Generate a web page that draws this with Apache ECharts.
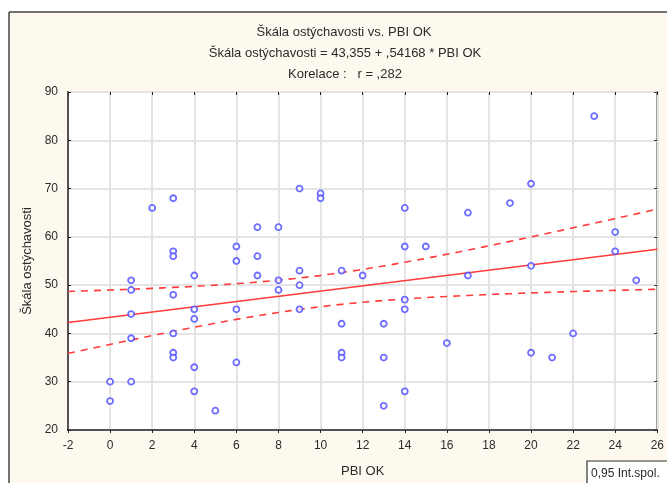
<!DOCTYPE html>
<html>
<head>
<meta charset="utf-8">
<script src="https://cdn.jsdelivr.net/npm/echarts@6/dist/echarts.min.js"></script>
<style>
  html, body { margin: 0; padding: 0; background: #fff; }
  #chart { width: 667px; height: 483px; }
</style>
</head>
<body>
<div id="chart"></div>
<script>
// PBI OK scores (x) and shyness scale scores (y) for each respondent
const pbiOk = [
  0, 0,
  1, 1, 1, 1, 1,
  2,
  3, 3, 3, 3, 3, 3, 3,
  4, 4, 4, 4, 4,
  5,
  6, 6, 6, 6,
  7, 7, 7,
  8, 8, 8,
  9, 9, 9, 9,
  10, 10,
  11, 11, 11, 11,
  12,
  13, 13, 13,
  14, 14, 14, 14, 14,
  15, 16, 17, 17, 19,
  20, 20, 20,
  21, 22, 23,
  24, 24, 25
];
const skala = [
  30, 26,
  51, 49, 44, 39, 30,
  66,
  68, 57, 56, 48, 40, 36, 35,
  52, 45, 43, 33, 28,
  24,
  58, 55, 45, 34,
  62, 56, 52,
  62, 51, 49,
  70, 53, 50, 45,
  69, 68,
  53, 42, 36, 35,
  52,
  42, 35, 25,
  66, 58, 47, 45, 28,
  58, 38, 65, 52, 67,
  71, 54, 36,
  35, 40, 85,
  61, 57, 51
];

// Fitted line as stated in the subtitle
const intercept = 43.355;
const slope = 0.54168;
const xRange = [-2, 26];
const xTicks = { min: -2, max: 26, step: 2 };
const yTicks = { min: 20, max: 90, step: 10 };

const points = pbiOk.map((x, i) => [x, skala[i]]);
const fit = x => intercept + slope * x;

// 95% confidence band for the mean response
const n = pbiOk.length;
const xMean = pbiOk.reduce((a, b) => a + b, 0) / n;
const sxx = pbiOk.reduce((a, x) => a + (x - xMean) ** 2, 0);
const sse = points.reduce((a, [x, y]) => a + (y - fit(x)) ** 2, 0);
const s = Math.sqrt(sse / (n - 2));
const tCrit = 1.999; // t(0.975, df = 62)
const bandX = [];
for (let x = xRange[0]; x <= xRange[1] + 1e-9; x += 0.25) bandX.push(x);
const half = x => tCrit * s * Math.sqrt(1 / n + (x - xMean) ** 2 / sxx);
const upper = bandX.map(x => [x, fit(x) + half(x)]);
const lower = bandX.map(x => [x, fit(x) - half(x)]);
const fitLine = xRange.map(x => [x, fit(x)]);

const textColor = '#2b2b2b';
const font = 'Liberation Sans, Arial, sans-serif';
const red = '#ff3b3b';

const chart = echarts.init(document.getElementById('chart'), null, { renderer: 'canvas' });
chart.setOption({
  animation: false,
  backgroundColor: '#fef9ee',
  textStyle: { fontFamily: font },
  graphic: [
    { type: 'rect', shape: { x: 0, y: 0, width: 667, height: 12 }, style: { fill: '#fff' }, silent: true },
    { type: 'rect', shape: { x: 0, y: 0, width: 9, height: 483 }, style: { fill: '#fff' }, silent: true },
    { type: 'line', shape: { x1: 9, y1: 12, x2: 667, y2: 12 }, style: { stroke: '#444', lineWidth: 1.5 }, silent: true },
    { type: 'line', shape: { x1: 9, y1: 12, x2: 9, y2: 483 }, style: { stroke: '#444', lineWidth: 1.5 }, silent: true },
    { type: 'text', x: 344, y: 32, style: { text: 'Škála ostýchavosti vs. PBI OK', fill: textColor, font: '13px ' + font, align: 'center', verticalAlign: 'middle' } },
    { type: 'text', x: 345, y: 53, style: { text: 'Škála ostýchavosti = 43,355 + ,54168 * PBI OK', fill: textColor, font: '13px ' + font, align: 'center', verticalAlign: 'middle' } },
    { type: 'text', x: 345, y: 74, style: { text: 'Korelace :   r = ,282', fill: textColor, font: '13px ' + font, align: 'center', verticalAlign: 'middle' } },
    { type: 'rect', shape: { x: 587, y: 461, width: 100, height: 26 }, style: { fill: '#fff', stroke: '#333', lineWidth: 1.2 }, silent: true },
    { type: 'text', x: 591, y: 474, style: { text: '0,95 Int.spol.', fill: textColor, font: '12px ' + font, verticalAlign: 'middle' } }
  ],
  grid: {
    left: 68, right: 5, top: 92, bottom: 51,
    show: true, backgroundColor: '#fff', borderColor: '#222', borderWidth: 1.5
  },
  xAxis: [{
    type: 'value', min: xTicks.min, max: xTicks.max, interval: xTicks.step,
    name: 'PBI OK', nameLocation: 'middle', nameGap: 35,
    nameTextStyle: { color: textColor, fontSize: 13, fontFamily: font },
    axisLine: { show: true, onZero: false, lineStyle: { color: '#222', width: 1.5 } },
    axisTick: { show: true, length: 3, lineStyle: { color: '#222' } },
    axisLabel: { color: textColor, fontSize: 12, margin: 10, fontFamily: font },
    splitLine: { show: true, lineStyle: { color: '#e4e4e4', width: 2 } }
  }, {
    type: 'value', position: 'top', min: xTicks.min, max: xTicks.max, interval: xTicks.step,
    axisLine: { show: false, onZero: false }, axisLabel: { show: false },
    axisTick: { show: true, inside: true, length: 3, lineStyle: { color: '#222' } },
    splitLine: { show: false }
  }],
  yAxis: [{
    type: 'value', min: yTicks.min, max: yTicks.max, interval: yTicks.step,
    name: 'Škála ostýchavosti', nameLocation: 'middle', nameGap: 34,
    nameTextStyle: { color: textColor, fontSize: 13, fontFamily: font },
    axisLine: { show: true, onZero: false, lineStyle: { color: '#222', width: 1.5 } },
    axisTick: { show: true, inside: true, length: 3, lineStyle: { color: '#222' } },
    axisLabel: { color: textColor, fontSize: 12, margin: 10, fontFamily: font },
    splitLine: { show: true, lineStyle: { color: '#e4e4e4', width: 2 } }
  }, {
    type: 'value', position: 'right', min: yTicks.min, max: yTicks.max, interval: yTicks.step,
    axisLine: { show: false, onZero: false }, axisLabel: { show: false },
    axisTick: { show: true, inside: true, length: 3, lineStyle: { color: '#222' } },
    splitLine: { show: false }
  }],
  series: [
    {
      type: 'line', data: upper, showSymbol: false, smooth: false, z: 3,
      lineStyle: { color: red, width: 1.6, type: [7, 6] }
    },
    {
      type: 'line', data: lower, showSymbol: false, smooth: false, z: 3,
      lineStyle: { color: red, width: 1.6, type: [7, 6] }
    },
    {
      type: 'line', data: fitLine, showSymbol: false, z: 3,
      lineStyle: { color: red, width: 1.6 }
    },
    {
      type: 'scatter', data: points, symbol: 'circle', symbolSize: 6, z: 4,
      itemStyle: { color: '#ffffff', borderColor: '#4a4aff', borderWidth: 1.8 }
    }
  ]
});
</script>
</body>
</html>
